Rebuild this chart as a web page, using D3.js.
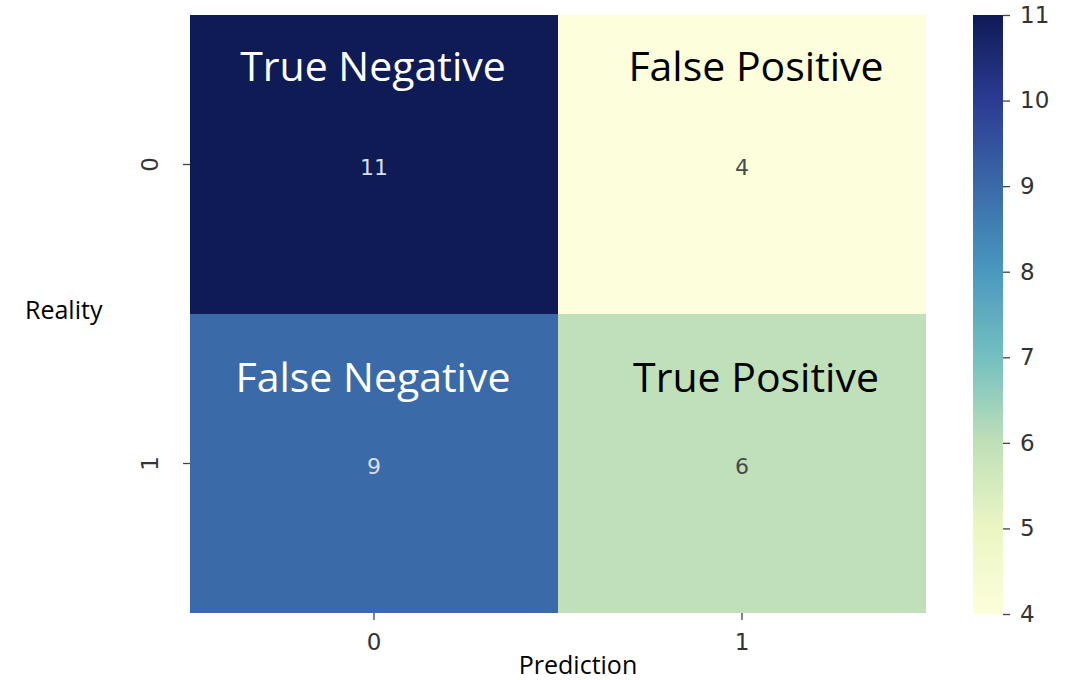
<!DOCTYPE html>
<html>
<head>
<meta charset="utf-8">
<script src="https://cdn.jsdelivr.net/npm/d3@7"></script>
<style>
  body { margin: 0; background: #fff; }
  .tick text { font-family: "DejaVu Sans", sans-serif; fill: #333; font-size: 23px; }
  .tick line { stroke: #444; stroke-width: 1.3; }
  .domain { display: none; }
</style>
</head>
<body>
<div id="chart"></div>
<script>
// data
const rowLabels = ["0", "1"];
const colLabels = ["0", "1"];
const values = [
  [11, 4],
  [9, 6]
];
const quadrantNames = [
  ["True Negative", "False Positive"],
  ["False Negative", "True Positive"]
];
const colorTicks = [4, 5, 6, 7, 8, 9, 10, 11];
// YlGnBu as it shows in the picture, one colour per tick
const palette = ["#fdfedb", "#ebf6c2", "#bfe0b8", "#74c0c1", "#4a98bf", "#3a6aa8", "#2b3b92", "#0f1b55"];

const width = 1074, height = 680;
const hm = { left: 190, right: 926, top: 15, bottom: 613 };
const cb = { left: 973, right: 1003, top: 15, bottom: 614 };

const svg = d3.select("#chart").append("svg")
  .attr("width", width)
  .attr("height", height);

const x = d3.scaleBand().domain(colLabels).range([hm.left, hm.right]);
const y = d3.scaleBand().domain(rowLabels).range([hm.top, hm.bottom]);
const color = d3.scaleLinear().domain(colorTicks).range(palette);

const cells = [];
values.forEach((row, i) => row.forEach((v, j) => cells.push({
  r: rowLabels[i], c: colLabels[j], value: v, name: quadrantNames[i][j]
})));

svg.selectAll(".cell").data(cells).enter()
  .append("rect")
  .attr("class", "cell")
  .attr("x", d => x(d.c))
  .attr("y", d => y(d.r))
  .attr("width", x.bandwidth())
  .attr("height", y.bandwidth())
  .attr("fill", d => color(d.value));

// numbers in the middle of each cell
svg.selectAll(".val").data(cells).enter()
  .append("text")
  .attr("class", "val")
  .attr("x", d => x(d.c) + x.bandwidth() / 2)
  .attr("y", d => y(d.r) + y.bandwidth() / 2 + 3)
  .attr("text-anchor", "middle")
  .attr("dominant-baseline", "central")
  .style("font-family", "DejaVu Sans, sans-serif")
  .style("font-size", "22px")
  .style("fill", d => d.value >= 8 ? "#d6dff0" : "#4a4a4a")
  .text(d => d.value);

// big quadrant names
svg.selectAll(".qname").data(cells).enter()
  .append("text")
  .attr("class", "qname")
  .attr("x", d => x(d.c) + x.bandwidth() / 2 + (d.c === "0" ? -1 : 14))
  .attr("y", d => y(d.r) + (d.r === "0" ? 66 : 78))
  .attr("text-anchor", "middle")
  .style("font-family", "Open Sans, sans-serif")
  .style("font-size", "41px")
  .style("fill", d => d.value >= 8 ? "#fff" : "#000")
  .text(d => d.name);

// axes
svg.append("g")
  .attr("transform", `translate(0,${hm.bottom})`)
  .call(d3.axisBottom(x).tickSize(7).tickPadding(14));

const yAxis = svg.append("g")
  .attr("transform", `translate(${hm.left},0)`)
  .call(d3.axisLeft(y).tickSize(7).tickPadding(14));
yAxis.selectAll(".tick text")
  .attr("x", -40)
  .attr("text-anchor", "middle")
  .attr("dy", "0.35em")
  .attr("transform", "rotate(-90, -40, 0)");

// colorbar
const cbScale = d3.scaleLinear().domain([4, 11]).range([cb.bottom, cb.top]);
const grad = svg.append("defs").append("linearGradient")
  .attr("id", "cbgrad")
  .attr("x1", 0).attr("y1", 1).attr("x2", 0).attr("y2", 0);
colorTicks.forEach(v => {
  grad.append("stop")
    .attr("offset", (v - 4) / 7)
    .attr("stop-color", color(v));
});
svg.append("rect")
  .attr("x", cb.left)
  .attr("y", cb.top)
  .attr("width", cb.right - cb.left)
  .attr("height", cb.bottom - cb.top)
  .attr("fill", "url(#cbgrad)");

svg.append("g")
  .attr("transform", `translate(${cb.right},0)`)
  .call(d3.axisRight(cbScale).tickValues(colorTicks).tickFormat(d3.format("d")).tickSize(7).tickPadding(10));

// axis titles
svg.append("text")
  .attr("x", 25)
  .attr("y", 319)
  .style("font-family", "Open Sans, sans-serif")
  .style("font-size", "25px")
  .text("Reality");

svg.append("text")
  .attr("x", 578)
  .attr("y", 674)
  .attr("text-anchor", "middle")
  .style("font-family", "Open Sans, sans-serif")
  .style("font-size", "25px")
  .text("Prediction");
</script>
</body>
</html>
